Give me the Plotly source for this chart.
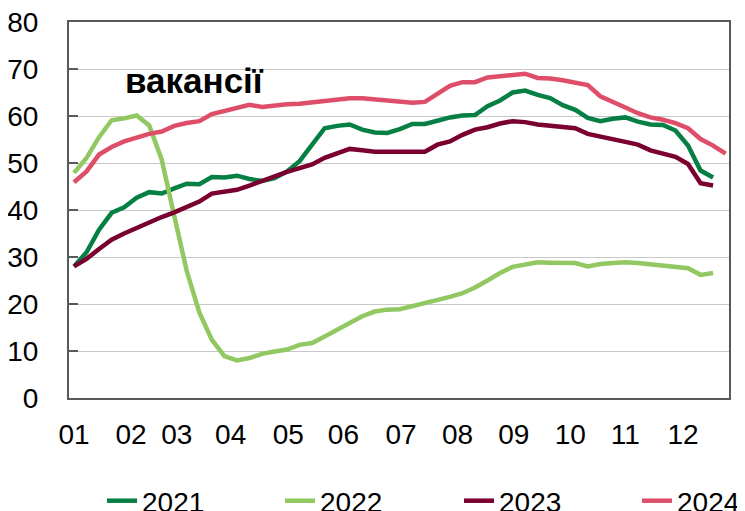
import plotly.graph_objects as go

# Weekly values (index of week within year)
v2021 = [28.0, 31.0, 35.8, 39.4, 40.6, 42.6, 43.8, 43.5, 44.6, 45.6, 45.5, 47.0, 46.9,
         47.3, 46.6, 46.2, 46.8, 48.2, 50.4, 54.1, 57.4, 57.9, 58.2, 57.1, 56.5, 56.4,
         57.2, 58.3, 58.3, 59.0, 59.7, 60.1, 60.2, 62.1, 63.3, 65.0, 65.4, 64.5, 63.8,
         62.3, 61.3, 59.6, 58.9, 59.4, 59.7, 58.8, 58.2, 58.1, 56.9, 53.7, 48.4, 46.9]
v2022 = [47.9, 51.1, 55.5, 59.1, 59.5, 60.1, 58.0, 50.7, 38.7, 27.0, 18.2, 12.4, 8.9,
         8.0, 8.5, 9.4, 9.9, 10.3, 11.3, 11.7, 13.1, 14.5, 16.1, 17.4, 18.4, 18.8,
         18.9, 19.5, 20.2, 20.9, 21.5, 22.3, 23.5, 25.0, 26.6, 27.9, 28.5, 28.9, 28.8,
         28.7, 28.7, 28.0, 28.5, 28.7, 28.9, 28.7, 28.4, 28.0, 27.7, 27.6, 26.2, 26.6]
v2023 = [28.0, 29.6, 31.7, 33.7, 35.0, 36.2, 37.4, 38.5, 39.5, 40.6, 41.8, 43.5, 43.8,
         44.3, 45.2, 46.2, 47.2, 48.1, 48.9, 49.7, 51.1, 52.1, 53.0, 52.7, 52.4, 52.4,
         52.4, 52.3, 52.4, 53.9, 54.6, 56.0, 57.1, 57.6, 58.4, 58.9, 58.7, 58.2, 57.9,
         57.7, 57.4, 56.2, 55.7, 55.2, 54.5, 53.9, 52.7, 52.0, 51.3, 49.8, 45.7, 45.2]
v2024 = [45.9, 48.2, 51.8, 53.4, 54.6, 55.5, 56.2, 56.7, 57.9, 58.5, 58.9, 60.4, 61.0,
         61.8, 62.4, 61.9, 62.3, 62.5, 62.6, 62.9, 63.0, 63.5, 63.8, 63.8, 63.6, 63.4,
         63.0, 62.8, 63.0, 64.8, 66.4, 67.2, 67.2, 68.2, 68.4, 68.8, 69.0, 68.1, 68.0,
         67.6, 67.2, 66.6, 64.2, 62.9, 61.8, 60.6, 59.7, 59.2, 58.5, 57.4, 55.1, 53.7, 52.0]

series = [("2021", v2021, "#067F45", "legend"),
          ("2022", v2022, "#92C862", "legend"),
          ("2023", v2023, "#7A0030", "legend2"),
          ("2024", v2024, "#DF4E68", "legend2")]

month_labels = ["01", "02", "03", "04", "05", "06", "07", "08", "09", "10", "11", "12"]
month_pos = [0.0, 4.55, 8.2, 12.5, 17.1, 21.5, 26.1, 30.6, 35.1, 39.6, 44.0, 48.6]

title_text = "вакансії"

fig = go.Figure()
for name, vals, col, lg in series:
    fig.add_trace(go.Scatter(x=list(range(len(vals))), y=vals, mode="lines", name=name,
                             legend=lg, line=dict(color=col, width=4.5)))

font_family = "Liberation Sans, Arial, sans-serif"
W, H = 737, 503
leg_common = dict(orientation="h", xref="container", yref="container",
                  xanchor="left", y=1 - 493 / H, yanchor="middle",
                  font=dict(size=28), entrywidth=133, entrywidthmode="pixels",
                  tracegroupgap=0, bgcolor="rgba(0,0,0,0)")
fig.update_layout(
    width=W, height=H,
    margin=dict(l=61, r=16, t=14, b=113, autoexpand=False),
    paper_bgcolor="white", plot_bgcolor="white",
    font=dict(family=font_family, size=28, color="black"),
    showlegend=True,
    legend=dict(x=94 / W, **leg_common),
    legend2=dict(x=451 / W, **leg_common),
    xaxis=dict(range=[-0.4, 52.27], tickmode="array", tickvals=month_pos, ticktext=month_labels,
               showgrid=False, zeroline=False, showline=True, mirror=True, automargin=False,
               linecolor="#595959", linewidth=2, ticks="", ticklabelstandoff=10,
               ticklabeloverflow="allow"),
    yaxis=dict(range=[0, 80], dtick=10, showgrid=True, gridcolor="#C8C8C8", gridwidth=1,
               zeroline=False, showline=True, mirror=True, linecolor="#595959", linewidth=2,
               automargin=False, ticklabeloverflow="allow",
               ticks="inside", ticklen=9, tickcolor="#595959", tickwidth=1.5,
               ticklabelstandoff=23),
    annotations=[dict(text="<b>" + title_text + "</b>", x=(123 - 69) / 660, y=(398 - 80) / 376,
                      xref="paper", yref="paper", xanchor="left", yanchor="middle",
                      showarrow=False, font=dict(size=35, family=font_family, color="black"))],
)

fig.write_html("out.html")
